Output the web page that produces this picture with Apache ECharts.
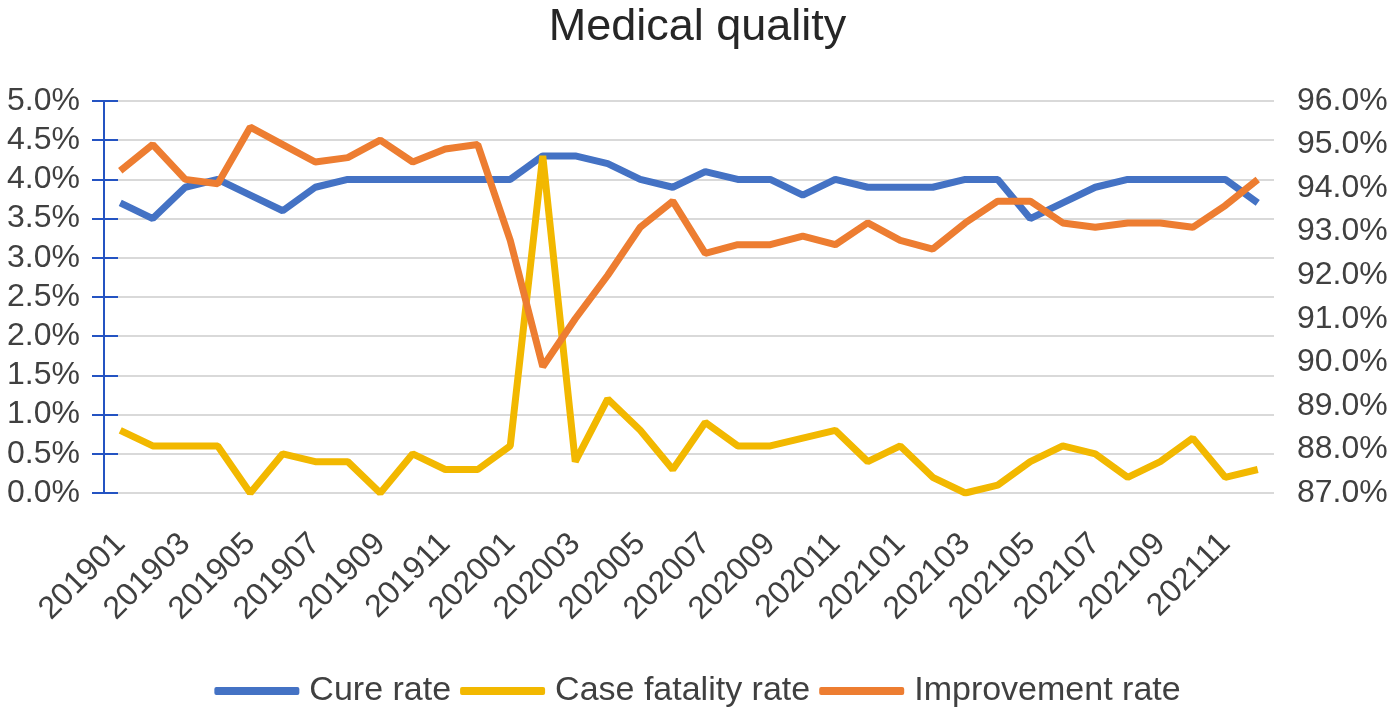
<!DOCTYPE html>
<html>
<head>
<meta charset="utf-8">
<script src="https://cdn.jsdelivr.net/npm/echarts@6/dist/echarts.min.js"></script>
<style>
  html, body { margin: 0; padding: 0; background: #fff; }
  #chart { width: 1395px; height: 715px; }
</style>
</head>
<body>
<div id="chart"></div>
<script>
const months = [
  '201901','201902','201903','201904','201905','201906','201907','201908','201909','201910','201911','201912',
  '202001','202002','202003','202004','202005','202006','202007','202008','202009','202010','202011','202012',
  '202101','202102','202103','202104','202105','202106','202107','202108','202109','202110','202111','202112'
];
// values in %
const cureRate = [
  3.7, 3.5, 3.9, 4.0, 3.8, 3.6, 3.9, 4.0, 4.0, 4.0, 4.0, 4.0,
  4.0, 4.3, 4.3, 4.2, 4.0, 3.9, 4.1, 4.0, 4.0, 3.8, 4.0, 3.9,
  3.9, 3.9, 4.0, 4.0, 3.5, 3.7, 3.9, 4.0, 4.0, 4.0, 4.0, 3.7
];
const fatalityRate = [
  0.8, 0.6, 0.6, 0.6, 0.0, 0.5, 0.4, 0.4, 0.0, 0.5, 0.3, 0.3,
  0.6, 4.3, 0.4, 1.2, 0.8, 0.3, 0.9, 0.6, 0.6, 0.7, 0.8, 0.4,
  0.6, 0.2, 0.0, 0.1, 0.4, 0.6, 0.5, 0.2, 0.4, 0.7, 0.2, 0.3
];
const improvementRate = [
  94.4, 95.0, 94.2, 94.1, 95.4, 95.0, 94.6, 94.7, 95.1, 94.6, 94.9, 95.0,
  92.8, 89.9, 91.0, 92.0, 93.1, 93.7, 92.5, 92.7, 92.7, 92.9, 92.7, 93.2,
  92.8, 92.6, 93.2, 93.7, 93.7, 93.2, 93.1, 93.2, 93.2, 93.1, 93.6, 94.2
];

const chart = echarts.init(document.getElementById('chart'));
const font = 'Liberation Sans, Arial, sans-serif';
const axisBlue = '#2453C2';
const pct = v => v.toFixed(1) + '%';

const option = {
  title: {
    text: 'Medical quality',
    left: 'center',
    top: 0,
    textStyle: { fontFamily: font, fontSize: 45, fontWeight: 'normal', color: '#262626' }
  },
  legend: {
    bottom: 2,
    left: 'center',
    itemWidth: 85,
    itemHeight: 8,
    itemGap: 9,
    icon: 'roundRect',
    textStyle: { fontFamily: font, fontSize: 34, color: '#404040', padding: [0, 0, 0, 5] },
    data: ['Cure rate', 'Case fatality rate', 'Improvement rate']
  },
  grid: { left: 104, right: 121, top: 101, bottom: 222 },
  xAxis: {
    type: 'category',
    data: months,
    axisLine: { show: false },
    axisTick: { show: false },
    axisLabel: {
      interval: 1,
      rotate: 45,
      margin: 46,
      fontFamily: font,
      fontSize: 32,
      color: '#404040'
    }
  },
  yAxis: [
    {
      type: 'value',
      min: 0,
      max: 5,
      interval: 0.5,
      axisLine: { show: true, onZero: false, lineStyle: { color: axisBlue, width: 2 } },
      axisTick: { show: true, length: 12, lineStyle: { color: axisBlue, width: 2 } },
      splitLine: { lineStyle: { color: '#d9d9d9', width: 2 } },
      axisLabel: {
        margin: 24,
        formatter: pct,
        fontFamily: font,
        fontSize: 32,
        color: '#404040'
      }
    },
    {
      type: 'value',
      min: 87,
      max: 96,
      interval: 1,
      position: 'right',
      axisLine: { show: false },
      axisTick: { show: false },
      splitLine: { show: false },
      axisLabel: {
        margin: 23,
        formatter: pct,
        fontFamily: font,
        fontSize: 32,
        color: '#404040'
      }
    },
    {
      // second copy of the left axis, only for the ticks that cross into the plot
      type: 'value',
      min: 0,
      max: 5,
      interval: 0.5,
      position: 'left',
      axisLine: { show: false },
      axisTick: { show: true, inside: true, length: 14, lineStyle: { color: axisBlue, width: 2 } },
      axisLabel: { show: false },
      splitLine: { show: false }
    }
  ],
  series: [
    {
      name: 'Cure rate',
      type: 'line',
      yAxisIndex: 0,
      data: cureRate,
      symbol: 'none',
      lineStyle: { width: 7, color: '#4472C4' },
      itemStyle: { color: '#4472C4' }
    },
    {
      name: 'Case fatality rate',
      type: 'line',
      yAxisIndex: 0,
      data: fatalityRate,
      symbol: 'none',
      lineStyle: { width: 7, color: '#F2B800' },
      itemStyle: { color: '#F2B800' }
    },
    {
      name: 'Improvement rate',
      type: 'line',
      yAxisIndex: 1,
      data: improvementRate,
      symbol: 'none',
      lineStyle: { width: 7, color: '#ED7D31' },
      itemStyle: { color: '#ED7D31' }
    }
  ]
};
chart.setOption(option);
</script>
</body>
</html>
